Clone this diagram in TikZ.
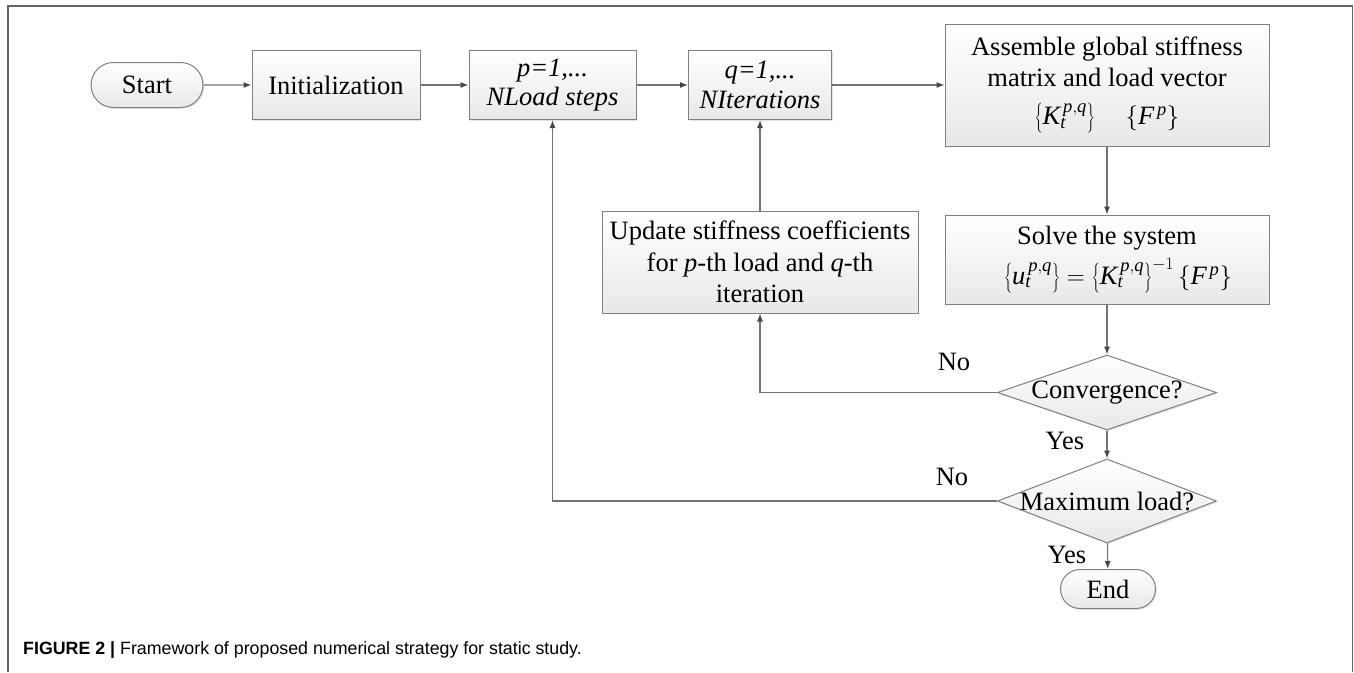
\documentclass[tikz,border=0pt]{standalone}
\usepackage{fontspec}
\setmainfont{Liberation Serif}
\newfontfamily\capfont{Liberation Sans}
\usetikzlibrary{arrows.meta,shapes.geometric,shapes.misc,shadows}
\definecolor{boxline}{RGB}{128,128,128}
\definecolor{boxfill}{RGB}{232,232,232}
\definecolor{linec}{RGB}{115,115,115}
\definecolor{headc}{RGB}{70,70,70}
\definecolor{framec}{RGB}{100,100,100}
\newcommand{\mainsz}{\fontsize{26.5}{31.7}\selectfont}
\newcommand{\brc}[1]{\left\{#1\right\}}
\begin{document}
\begin{tikzpicture}[x=1pt,y=-1pt,
  boxbase/.style={draw=boxline, line width=1pt, top color=white, bottom color=boxfill,
    drop shadow={shadow xshift=1.3pt,shadow yshift=-1.3pt,fill=black!22},
    inner sep=0pt, align=center, font=\mainsz},
  procbox/.style={boxbase, rectangle},
  termbox/.style={boxbase, rounded rectangle},
  decbox/.style={boxbase, diamond},
  conn/.style={draw=linec, line width=1.1pt, -{Latex[length=8pt,width=6pt,color=headc]}},
  lbl/.style={font=\mainsz, inner sep=0pt},
  framel/.style={draw=framec, line width=1.2pt}]
\useasboundingbox (0,0) rectangle (1354,672);
% frame
\coordinate (fbl) at (8,672);
\coordinate (ftl) at (8,6);
\coordinate (ftr) at (1352.5,6);
\coordinate (fbr) at (1352.5,672);
\draw[framel] (fbl) -- (ftl) -- (ftr) -- (fbr);
% nodes
\node[termbox, minimum width=112pt, minimum height=45pt] (start) at (147,85) {Start};
\node[procbox, minimum width=168pt, minimum height=69pt] (init) at (336,85) {Initialization};
\node[procbox, minimum width=167pt, minimum height=69pt] (pbox) at (552.5,85) {\textit{p=1,...}\\[-2pt]\textit{NLoad steps}};
\node[procbox, minimum width=143pt, minimum height=69pt] (qbox) at (760,85) {\textit{q=1,...}\\[-2pt]\textit{NIterations}};
\node[procbox, minimum width=324pt, minimum height=122pt] (asm) at (1107,85)
  {Assemble global stiffness\\matrix and load vector\\[6pt]
   $\brc{\mathit{K}_{\mathit{t}}^{\,\mathit{p,q}}}\quad\brc{\mathit{F}^{\,\mathit{p}}}$};
\node[procbox, minimum width=324pt, minimum height=89pt] (solve) at (1107,259.5)
  {Solve the system\\[8pt]
   \hspace*{22pt}$\brc{\mathit{u}_{\mathit{t}}^{\,\mathit{p,q}}}=\brc{\mathit{K}_{\mathit{t}}^{\,\mathit{p,q}}}^{-1}\brc{\mathit{F}^{\,\mathit{p}}}$};
\node[procbox, minimum width=316pt, minimum height=102pt] (upd) at (760,262)
  {Update stiffness coefficients\\for \textit{p}-th load and \textit{q}-th\\iteration};
\node[decbox, minimum width=219pt, minimum height=75pt, label={[lbl]center:Convergence?}] (conv) at (1107,392.5) {};
\node[decbox, minimum width=219pt, minimum height=84pt, label={[lbl]center:Maximum load?}] (maxl) at (1107,501) {};
\node[termbox, minimum width=95pt, minimum height=39pt] (end) at (1108,589) {End};
% connectors
\draw[conn] (start) -- (init);
\draw[conn] (init) -- (pbox);
\draw[conn] (pbox) -- (qbox);
\draw[conn] (qbox) -- (asm);
\draw[conn] (asm) -- (solve);
\draw[conn] (solve) -- (conv);
\draw[conn] (conv) -- (maxl);
\draw[conn] (maxl) -- (end);
\draw[conn] (conv.west) -| (upd.south);
\draw[conn] (upd) -- (qbox);
\draw[conn] (maxl.west) -| (pbox.south);
% labels
\node[lbl] (no1) at (954,362) {No};
\node[lbl] (yes1) at (1065,441) {Yes};
\node[lbl] (no2) at (952,477) {No};
\node[lbl] (yes2) at (1067,555) {Yes};
% caption
\node[anchor=west, inner sep=0pt, font=\capfont\fontsize{17.8}{20}\selectfont] (cap) at (23,650)
  {\textbf{FIGURE 2 |} Framework of proposed numerical strategy for static study.};
\end{tikzpicture}
\end{document}
